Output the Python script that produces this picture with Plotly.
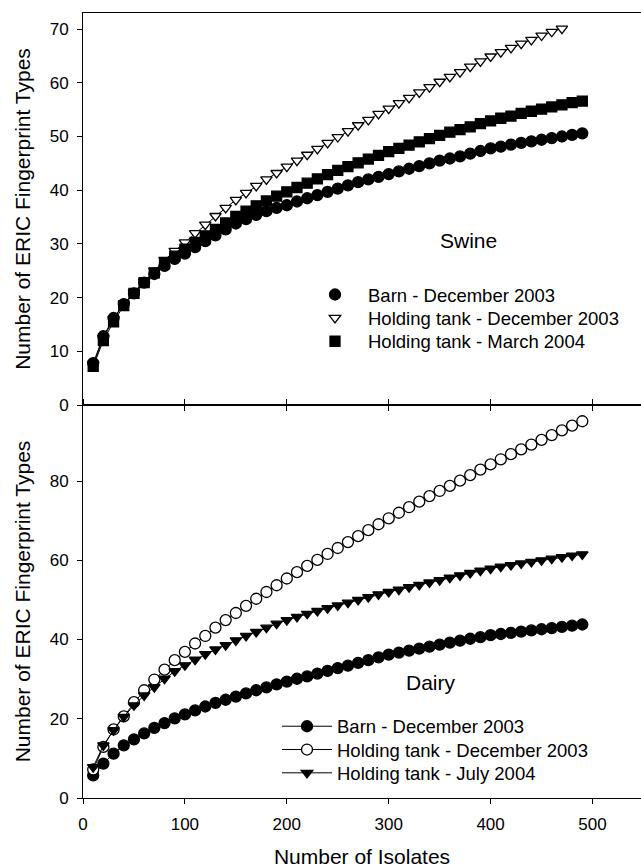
import plotly.graph_objects as go

# ---------------- data ----------------
isolates = list(range(10, 500, 10))            # 10 .. 490
isolates_ht_dec_swine = list(range(10, 480, 10))  # 10 .. 470

swine_barn_dec2003 = [7.8, 12.8, 16.2, 18.8, 20.8, 22.8, 24.4, 25.9, 27.2, 28.2,
                      29.4, 30.5, 31.6, 32.7, 33.8, 34.6, 35.4, 36.1, 36.7, 37.2,
                      37.9, 38.5, 39.1, 39.7, 40.3, 40.9, 41.5, 42.0, 42.5, 43.0,
                      43.5, 44.0, 44.5, 45.0, 45.5, 45.9, 46.3, 46.8, 47.3, 47.8,
                      48.1, 48.5, 48.8, 49.1, 49.4, 49.7, 50.0, 50.3, 50.6]
swine_tank_dec2003 = [7.5, 12.5, 16.0, 18.8, 21.0, 23.0, 25.0, 27.0, 28.7, 30.3,
                      32.0, 33.6, 35.2, 36.7, 38.2, 39.5, 40.8, 42.0, 43.2, 44.4,
                      45.5, 46.6, 47.7, 48.8, 49.9, 51.0, 52.1, 53.1, 54.2, 55.2,
                      56.2, 57.2, 58.2, 59.2, 60.2, 61.1, 62.0, 63.0, 64.0, 64.9,
                      65.7, 66.5, 67.3, 68.0, 68.8, 69.5, 70.1]
swine_tank_mar2004 = [7.2, 12.0, 15.5, 18.5, 20.8, 22.8, 24.6, 26.3, 27.7, 29.0,
                      30.3, 31.5, 32.7, 33.9, 35.1, 36.1, 37.1, 38.0, 38.9, 39.7,
                      40.5, 41.3, 42.1, 42.9, 43.7, 44.4, 45.1, 45.8, 46.5, 47.2,
                      47.8, 48.4, 49.0, 49.6, 50.2, 50.8, 51.3, 51.8, 52.4, 52.9,
                      53.4, 53.8, 54.3, 54.7, 55.1, 55.5, 55.9, 56.3, 56.6]

dairy_barn_dec2003 = [5.7, 8.7, 11.2, 13.3, 14.8, 16.3, 17.7, 18.9, 20.1, 21.1,
                      22.1, 23.1, 24.0, 24.8, 25.6, 26.4, 27.2, 27.9, 28.7, 29.4,
                      30.1, 30.7, 31.4, 32.1, 32.8, 33.4, 34.1, 34.8, 35.5, 36.2,
                      36.7, 37.2, 37.7, 38.2, 38.7, 39.2, 39.7, 40.2, 40.6, 41.1,
                      41.4, 41.7, 42.0, 42.3, 42.6, 42.9, 43.2, 43.5, 43.8]
dairy_tank_dec2003 = [7.2, 12.9, 17.3, 20.6, 24.2, 27.2, 29.9, 32.4, 34.8, 36.9,
                      39.0, 40.9, 43.0, 44.9, 46.7, 48.5, 50.3, 52.0, 53.7, 55.4,
                      57.0, 58.6, 60.1, 61.6, 63.1, 64.6, 66.1, 67.6, 69.1, 70.6,
                      72.0, 73.4, 74.8, 76.2, 77.5, 78.8, 80.1, 81.5, 82.9, 84.2,
                      85.5, 86.8, 88.0, 89.2, 90.4, 91.6, 92.8, 94.0, 95.1]
dairy_tank_jul2004 = [7.8, 13.3, 17.1, 20.5, 23.4, 25.9, 28.0, 30.1, 32.0, 33.5,
                      34.9, 36.3, 37.5, 38.6, 39.8, 40.9, 41.9, 43.0, 44.0, 44.9,
                      45.7, 46.5, 47.2, 47.9, 48.6, 49.3, 50.0, 50.7, 51.4, 52.0,
                      52.6, 53.2, 53.8, 54.4, 55.0, 55.6, 56.2, 56.8, 57.4, 57.9,
                      58.4, 58.8, 59.2, 59.6, 60.0, 60.4, 60.8, 61.2, 61.5]

x_ticks = [0, 100, 200, 300, 400, 500]
swine_y_ticks = [0, 10, 20, 30, 40, 50, 60, 70]
dairy_y_ticks = [0, 20, 40, 60, 80]

# ---------------- figure ----------------
FONT = "Liberation Sans, Arial, Helvetica, sans-serif"
W, H = 641, 868
ML, MR, MT, MB = 83, 0, 13, 70
PW, PH = W - ML - MR, H - MT - MB
split = (H - MB - 405) / PH

def px_x(px):
    return (px - ML) / PW

def px_y(py):
    return (H - MB - py) / PH

fig = go.Figure()

def line_trace(x, y, xa, ya):
    return go.Scatter(x=x, y=y, mode="lines", line=dict(color="black", width=1),
                      xaxis=xa, yaxis=ya, showlegend=False, hoverinfo="skip")

OL = dict(color="black", width=1.3)

# swine (top)
fig.add_trace(line_trace(isolates, swine_barn_dec2003, "x", "y"))
fig.add_trace(line_trace(isolates_ht_dec_swine, swine_tank_dec2003, "x", "y"))
fig.add_trace(line_trace(isolates, swine_tank_mar2004, "x", "y"))
fig.add_trace(go.Scatter(x=isolates, y=swine_barn_dec2003, mode="markers",
                         name="Barn - December 2003", legend="legend",
                         marker=dict(symbol="circle", size=11, color="black", line=OL),
                         xaxis="x", yaxis="y"))
fig.add_trace(go.Scatter(x=isolates_ht_dec_swine, y=swine_tank_dec2003, mode="markers",
                         name="Holding tank - December 2003", legend="legend2",
                         marker=dict(symbol="triangle-down", size=10, color="white", line=OL),
                         xaxis="x", yaxis="y"))
fig.add_trace(go.Scatter(x=isolates, y=swine_tank_mar2004, mode="markers",
                         name="Holding tank - March 2004", legend="legend3",
                         marker=dict(symbol="square", size=10, color="black", line=OL),
                         xaxis="x", yaxis="y"))

# dairy (bottom)
fig.add_trace(go.Scatter(x=isolates, y=dairy_barn_dec2003, mode="lines+markers",
                         name="Barn - December 2003", legend="legend4",
                         line=dict(color="black", width=1),
                         marker=dict(symbol="circle", size=11, color="black", line=OL),
                         xaxis="x2", yaxis="y2"))
fig.add_trace(go.Scatter(x=isolates, y=dairy_tank_dec2003, mode="lines+markers",
                         name="Holding tank - December 2003", legend="legend5",
                         line=dict(color="black", width=1),
                         marker=dict(symbol="circle", size=11, color="white", line=OL),
                         xaxis="x2", yaxis="y2"))
fig.add_trace(go.Scatter(x=isolates, y=dairy_tank_jul2004, mode="lines+markers",
                         name="Holding tank - July 2004", legend="legend6",
                         line=dict(color="black", width=1),
                         marker=dict(symbol="triangle-down", size=10, color="black", line=OL),
                         xaxis="x2", yaxis="y2"))

tickfont = dict(family=FONT, size=17, color="black")
titlefont = dict(family=FONT, size=21, color="black")
legfont = dict(family=FONT, size=18.5, color="black")
axis_common = dict(showgrid=False, zeroline=False, showline=True, linecolor="black",
                   linewidth=1, tickcolor="black", tickwidth=1, ticklen=5,
                   tickfont=tickfont)
xr = [0, 547.6]

def leg(x_px, y_px, iw):
    return dict(x=px_x(x_px), y=px_y(y_px), xanchor="left", yanchor="middle",
                bgcolor="rgba(0,0,0,0)", font=legfont, itemwidth=iw,
                borderwidth=0)

IW_T, IW_B = 56, 50
top_leg_x = 335 - (IW_T / 2 + 5)
bot_leg_x = 307 - (IW_B / 2 + 5)

fig.update_layout(
    width=W, height=H,
    margin=dict(l=ML, r=MR, t=MT, b=MB),
    paper_bgcolor="white", plot_bgcolor="white",
    font=dict(family=FONT, color="black"),
    xaxis=dict(domain=[0, 1], range=xr, anchor="y", tickvals=x_ticks[1:],
               showticklabels=False, ticks="outside", mirror=True, **axis_common),
    yaxis=dict(domain=[split, 1], range=[0, 73], anchor="x", tickvals=swine_y_ticks,
               ticks="outside", ticklabelstandoff=5,
               title=dict(text="Number of ERIC Fingerprint Types", font=titlefont,
                          standoff=13),
               **axis_common),
    xaxis2=dict(domain=[0, 1], range=xr, anchor="y2", tickvals=x_ticks,
                ticks="outside", mirror="ticks", ticklabelstandoff=6,
                title=dict(text="Number of Isolates", font=titlefont, standoff=16),
                **axis_common),
    yaxis2=dict(domain=[0, split], range=[0, 99.2], anchor="x2", tickvals=dairy_y_ticks,
                ticks="outside", ticklabelstandoff=5,
                title=dict(text="Number of ERIC Fingerprint Types", font=titlefont,
                           standoff=13),
                **axis_common),
    legend=leg(top_leg_x, 295, IW_T),
    legend2=leg(top_leg_x, 318.3, IW_T),
    legend3=leg(top_leg_x, 341.7, IW_T),
    legend4=leg(bot_leg_x, 726.7, IW_B),
    legend5=leg(bot_leg_x, 750, IW_B),
    legend6=leg(bot_leg_x, 773.3, IW_B),
    annotations=[
        dict(text="Swine", x=378.6, y=30.7, xref="x", yref="y", showarrow=False,
             font=titlefont),
        dict(text="Dairy", x=341.5, y=29.1, xref="x2", yref="y2", showarrow=False,
             font=titlefont),
    ],
)

fig.write_html("out.html")
